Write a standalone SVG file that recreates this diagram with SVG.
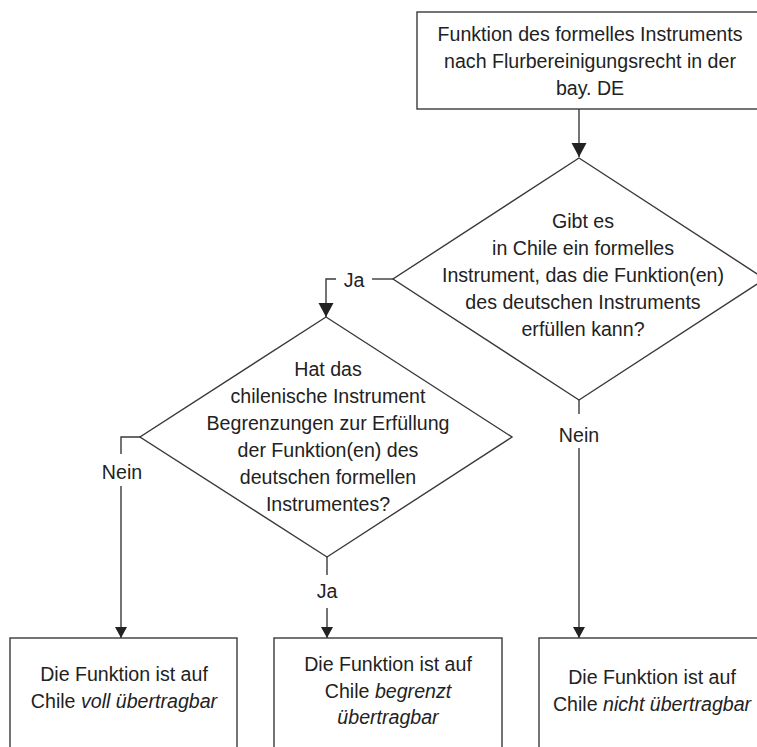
<svg xmlns="http://www.w3.org/2000/svg" width="757" height="747" viewBox="0 0 757 747">
  <style>
    .box { fill: #ffffff; stroke: #3a3a3a; stroke-width: 1.4; }
    .wire { fill: none; stroke: #3a3a3a; stroke-width: 1.4; }
    text { font-family: "Liberation Sans", Arial, sans-serif; font-size: 19.6px; fill: #222222; text-anchor: middle; }
    .it { font-style: italic; }
  </style>
  <defs>
    <marker id="headL" markerUnits="userSpaceOnUse" markerWidth="16" markerHeight="16" refX="14" refY="7.5" orient="auto">
      <path d="M0,0 L14,7.5 L0,15 z" fill="#222222"/>
    </marker>
    <marker id="headS" markerUnits="userSpaceOnUse" markerWidth="14" markerHeight="14" refX="11" refY="6" orient="auto">
      <path d="M0,0 L11,6 L0,12 z" fill="#222222"/>
    </marker>
  </defs>

  <rect width="757" height="747" fill="#ffffff"/>

  <!-- connectors -->
  <g id="connectors">
    <line class="wire" x1="579" y1="109" x2="579" y2="157" marker-end="url(#headL)"/>
    <line class="wire" x1="393" y1="279" x2="372" y2="279"/>
    <text x="354" y="287">Ja</text>
    <polyline class="wire" points="336,279 326,279 326,317" marker-end="url(#headL)"/>

    <line class="wire" x1="579" y1="400" x2="579" y2="414"/>
    <text x="579" y="442">Nein</text>
    <line class="wire" x1="579" y1="448" x2="579" y2="638" marker-end="url(#headS)"/>

    <polyline class="wire" points="140,437 121,437 121,454"/>
    <text x="122" y="479">Nein</text>
    <line class="wire" x1="121" y1="486" x2="121" y2="638" marker-end="url(#headS)"/>

    <line class="wire" x1="327" y1="557" x2="327" y2="575"/>
    <text x="327" y="598">Ja</text>
    <line class="wire" x1="327" y1="608" x2="327" y2="638" marker-end="url(#headS)"/>
  </g>

  <!-- start box -->
  <g id="start">
    <rect class="box" x="417" y="12" width="348" height="97"/>
    <text x="590" y="41">Funktion des formelles Instruments</text>
    <text x="590" y="68">nach Flurbereinigungsrecht in der</text>
    <text x="590" y="95">bay. DE</text>
  </g>

  <!-- first decision -->
  <g id="decision1">
    <polygon class="box" points="579,158 765,279 579,400 393,279"/>
    <text x="583" y="228">Gibt es</text>
    <text x="583" y="255">in Chile ein formelles</text>
    <text x="583" y="282">Instrument, das die Funktion(en)</text>
    <text x="583" y="309">des deutschen Instruments</text>
    <text x="583" y="336">erfüllen kann?</text>
  </g>

  <!-- second decision -->
  <g id="decision2">
    <polygon class="box" points="326,317 512,437 327,557 140,437"/>
    <text x="328" y="376">Hat das</text>
    <text x="328" y="403">chilenische Instrument</text>
    <text x="328" y="430">Begrenzungen zur Erfüllung</text>
    <text x="328" y="457">der Funktion(en) des</text>
    <text x="328" y="484">deutschen formellen</text>
    <text x="328" y="511">Instrumentes?</text>
  </g>

  <!-- outcomes -->
  <g id="outcome-full">
    <rect class="box" x="10" y="638" width="227" height="130"/>
    <text x="124" y="681">Die Funktion ist auf</text>
    <text x="124" y="708">Chile <tspan class="it">voll übertragbar</tspan></text>
  </g>

  <g id="outcome-limited">
    <rect class="box" x="274" y="638" width="228" height="130"/>
    <text x="388" y="671">Die Funktion ist auf</text>
    <text x="388" y="698">Chile <tspan class="it">begrenzt</tspan></text>
    <text x="388" y="724" class="it">übertragbar</text>
  </g>

  <g id="outcome-none">
    <rect class="box" x="539" y="638" width="227" height="130"/>
    <text x="652" y="684">Die Funktion ist auf</text>
    <text x="652" y="711">Chile <tspan class="it">nicht übertragbar</tspan></text>
  </g>
</svg>
